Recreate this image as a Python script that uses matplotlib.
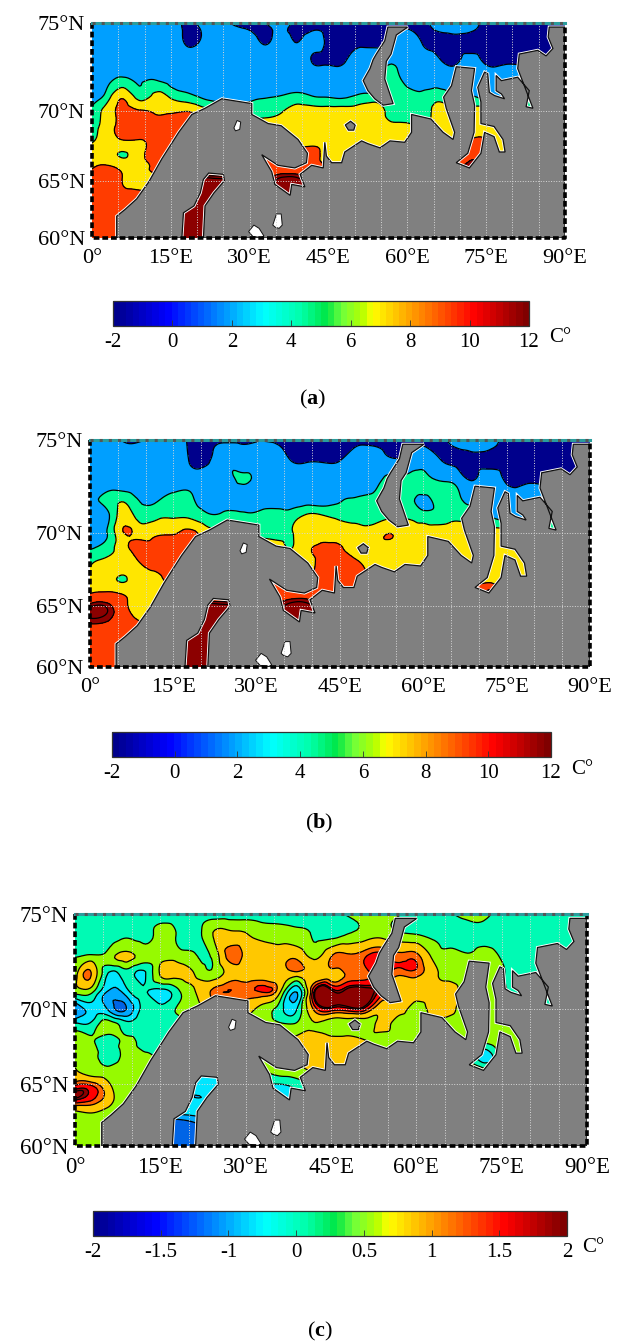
import numpy as np
import matplotlib
matplotlib.use('Agg')
import matplotlib.pyplot as plt
from matplotlib.colors import LinearSegmentedColormap
from matplotlib.tri import Triangulation, UniformTriRefiner

plt.rcParams['font.family'] = ['Liberation Serif', 'DejaVu Serif']
plt.rcParams['mathtext.fontset'] = 'custom'
plt.rcParams['mathtext.rm'] = 'Liberation Serif'
plt.rcParams['mathtext.bf'] = 'Liberation Serif:bold'

lons = np.arange(0, 91, 3)
lats = np.arange(75, 59, -1)

sst_a = [
 [3,3,1.5,3,3,2.5,.4,2,2.5,.8, .8,1.2,2.5,.5,.5,.3,0,0,0,0, 0,.3,2,2,2,.3,0,0,0,0,0],
 [3,3,3,3,3,3,.7,1.5,3,3, 2.5,.8,2,1,2,.5,.3,.3,.3,1, 2.5,.8,.3,.3,.3,.3,.3,.3,.3,.3,.3],
 [3,3,3,3,3,3,3,3,3,3, 3,3,3,3,.8,.5,.8,3,3,3.5, 3,3,1.5,.5,2,.5,.5,.5,.5,.5,.5],
 [3,3.5,4.3,3.7,3.9,3.2,3,3,3,3, 3,3,3,3,3,3,3,3,3,5, 3,3,3,3,3,3,3,3,3,3,3],
 [2.5,5,7.5,5,6.5,5.5,4.5,3.5,3,3, 3.5,3.8,4,4.5,3.9,3.7,3.5,4.3,4.6,5, 5,4.5,5,4,4,3,3,3,3,3,3],
 [4.5,7,8.5,8.2,7.8,7.8,8,7,6,5.5, 5,5,5.8,7,7,7,7,7,7,5.3, 5,5,7,7,7,7,7,7,7,7,7],
 [5,7.2,8.5,8.5,8.5,8.5,8.5,8,7,7, 7,7,7,7,7,7.5,7,7,7,6.3, 6.3,6,7,7,7,7,7,7,7,7,7],
 [5.8,7,7.9,7.9,8.5,8.5,8,8,8,8, 8,7,7,7,7.5,7.5,7,7,7,7, 7,7,7,7,8.3,8.3,7,7,7,7,7],
 [7,7,5.8,7.3,8.5,8,8,8,8,8, 8,8,8,8.8,8.8,7,7,7,7,7, 7,7,7,7,9.3,9,7,7,7,7,7],
 [7.9,8.3,7.5,7.5,8.2,8,8,8,8,8, 9,9,9,9,9,8,7,7,7,7, 7,7,7,9,10.5,9,7,7,7,7,7],
 [9,9,7.9,7.5,7.5,8,9,11,11,11, 10,10,11,11,10,9,8,8,8,8, 8,8,8,8,8,8,8,8,8,8,8],
 [9,9,8.3,8.2,8,9,11,11,11,10, 10,10,11,11,10,9,8,8,8,8, 8,8,8,8,8,8,8,8,8,8,8],
 [9,9,9,8.5,9,10,11,11,11,10, 10,10,11,11,10,9,8,8,8,8, 8,8,8,8,8,8,8,8,8,8,8],
 [9,9,9,9,9,11,11,11,11,10, 9,9,9,9,9,9,8,8,8,8, 8,8,8,8,8,8,8,8,8,8,8],
 [9,9,9,9,9,11,11,11,11,10, 9,9,9,9,9,9,8,8,8,8, 8,8,8,8,8,8,8,8,8,8,8],
 [9,9,9,9,9,11,11,11,11,10, 9,9,9,9,9,9,8,8,8,8, 8,8,8,8,8,8,8,8,8,8,8],
]

sst_b = [
 [3,3,.7,.7,3,3,.5,.5,.7,.6, .8,.6,.3,.3,.3,.3,.3,.3,.3,.3, .3,.3,2,2.5,2,.3,.3,.3,.3,.3,.3],
 [1,3,3,3,3,3,.8,.5,3,3, 3,3,1.1,.8,.8,1,2.5,2.5,1.5,2, 3,1.2,.5,.3,.3,.3,.3,.3,.3,.3,.3],
 [3,3,3,3,3,3,3,3,3,4.2, 3.5,3,3,3,3,3,3,3,5,5, 5,3.9,3,1,3,.5,.5,.5,.5,.5,.5],
 [3.5,4.7,5.5,3.8,3.8,4.5,4.3,3,3,3, 3,3,3,3,3,3.8,4.1,4.5,5,5, 3.5,5,4.5,3,3,3,3,3,3,3,3],
 [3,3.2,7,5,5.5,5.8,5.7,4.5,4.5,4.5, 4.5,5,5,6.5,6.3,5.5,5,5,5.7,5.7, 5,5,5.5,5,4,3,3,3,3,3,3],
 [3.5,3.9,7.9,7.5,7.8,7.9,8.5,7,6,5.5, 5.5,5.5,5.8,7,7.5,7,7,7,8,7, 7,7,7,7,7,7,7,7,7,7,7],
 [4,5,7.3,8.5,8.5,8.5,8.5,8,7,7, 7,7,6,7.5,8.5,8.3,7,7,7,7, 7,7,7,7,7,7,7,7,7,7,7],
 [5.8,7,7,7.9,8.5,8.5,8,8,8,8, 8,7,7,7,9,9,8.5,7,7,7, 7,7,7,7,7,7,7,7,7,7,7],
 [7,7,5.8,7,7.5,8.5,8,8,8,8, 8,8,8,8,9,9,8.5,8,7,7, 7,7,7,7,7.2,7,7,7,7,7,7],
 [7.9,8.2,7.8,7.5,7.7,8,8,8,8,8, 9,9,9,9,9,9,8.5,8,7,7, 7,7,7,8,10.5,8,7,7,7,7,7],
 [10.5,10.5,8.6,7.2,7.5,8,9,11,11,11, 10,10,11,11,10,9,8,8,8,8, 8,8,8,8,8,8,8,8,8,8,8],
 [10.5,10.2,9,7.8,7.5,9,11,11,11,10, 10,10,11,11,10,9,8,8,8,8, 8,8,8,8,8,8,8,8,8,8,8],
 [9,9,9,9,9,10,11,11,11,10, 10,10,11,11,10,9,8,8,8,8, 8,8,8,8,8,8,8,8,8,8,8],
 [9,9,9,9,9,11,11,11,11,10, 9,9,9,9,9,9,8,8,8,8, 8,8,8,8,8,8,8,8,8,8,8],
 [9,9,9,9,9,11,11,11,11,10, 9,9,9,9,9,9,8,8,8,8, 8,8,8,8,8,8,8,8,8,8,8],
 [9,9,9,9,9,11,11,11,11,10, 9,9,9,9,9,9,8,8,8,8, 8,8,8,8,8,8,8,8,8,8,8],
]

sst_c = [
 [0,0,0,0,0,0,0,0,0,0, 0,0,0,0,0,.1,.3,.4,.5,.3, 0,.1,.2,.5,.4,0,0,0,0,0,0],
 [0,0,0,.2,.1,.4,.2,0,.7,.9, .8,.6,.5,.4,.2,.1,.3,.5,.6,.4, .3,.1,0,0,.1,0,0,0,0,0,0],
 [.2,.3,.5,.9,.5,.5,.5,.3,.3,1.4, 1.1,1,1,1.1,.6,1.2,1.3,1.45,1.6,1.35, 1.35,.6,.4,.3,.4,.2,.1,0,0,0,0],
 [.5,1.2,-.3,0,-.3,.8,.9,.75,.4,.95, 1,1,1,1,1,1.1,1.3,1.4,1.55,1.3, 1.35,.9,.6,.5,.4,.3,0,0,0,0,0],
 [.4,.3,-.7,-.4,-.1,-.4,.1,.7,1.3,1.5, 1.4,1.5,.8,-.6,1.75,2,2,2,1.6,1, 1,1,1,.5,.5,.4,0,0,0,0,0],
 [-1,-.4,-.7,-1,0,0,.3,.5,.8,1, 1,.5,0,-.2,1.3,1.65,1.65,1.6,.9,1, .5,1,.9,.5,.5,.4,.2,.2,.2,.2,.2],
 [0,0,.5,0,0,-.1,0,.2,.5,.5, .5,.5,.4,.4,.7,.4,.4,.4,.9,.4, .4,.4,.4,.4,.4,.4,.4,.4,.4,.4,.4],
 [.3,.3,0,.4,-.05,0,.1,.3,.5,.5, .6,.7,.8,.9,1,1,1,.8,.5,.4, .4,.4,.4,.4,.4,.4,.4,.4,.4,.4,.4],
 [.5,.5,0,.4,.4,.2,.3,.3,.3,.3, .3,.5,.7,.9,1,1,1,.8,.6,.4, .4,.4,.4,.4,-.5,.4,.4,.4,.4,.4,.4],
 [.8,.4,.4,.5,.5,.4,.2,0,-.2,-.2, 0,.2,.5,.6,.8,.8,.8,.6,.4,.4, .4,.4,.4,.4,.4,.4,.4,.4,.4,.4,.4],
 [1.4,1.4,.8,.4,.4,.2,-.2,-.4,-.3,-.3, -.2,-.2,-.2,0,.3,.5,.5,.4,.4,.4, .4,.4,.4,.4,.4,.4,.4,.4,.4,.4,.4],
 [1.9,1.6,1,.4,.4,0,-.4,-.6,-.5,-.3, -.3,-.3,-.5,-.2,.2,.4,.4,.4,.4,.4, .4,.4,.4,.4,.4,.4,.4,.4,.4,.4,.4],
 [.8,.9,.6,.5,.4,-.2,-.4,-.4,-.4,-.3, -.2,-.2,-.2,0,.2,.4,.4,.4,.4,.4, .4,.4,.4,.4,.4,.4,.4,.4,.4,.4,.4],
 [.5,.5,.5,.5,.3,-.8,-1.2,-1,-.7,-.3, 0,.4,.4,.4,.4,.4,.4,.4,.4,.4, .4,.4,.4,.4,.4,.4,.4,.4,.4,.4,.4],
 [.5,.5,.5,.4,0,-1,-1.3,-1.3,-1,-.3, 0,.4,.4,.4,.4,.4,.4,.4,.4,.4, .4,.4,.4,.4,.4,.4,.4,.4,.4,.4,.4],
 [.5,.5,.5,.4,0,-1,-1.3,-1.3,-1,-.3, 0,.4,.4,.4,.4,.4,.4,.4,.4,.4, .4,.4,.4,.4,.4,.4,.4,.4,.4,.4,.4],
]

# contour bands
levels_ab = [-2, 1, 4, 6, 8, 10, 12]
lines_ab = [1, 4, 6, 8, 10, 10.6]
colors_ab = ['#00008c', '#009fff', '#00fa96', '#ffe600', '#ff3c00', '#8c0000']
levels_c = [-2, -1, -0.6, -0.2, 0.25, 0.75, 1.25, 1.5, 1.75, 2]
lines_c = [-1, -0.6, -0.2, 0.25, 0.75, 1.25, 1.5, 1.75, 1.85]
colors_c = ['#0064e6', '#00a8ff', '#00e6ff', '#00fab4', '#96fa00', '#ffc800', '#ff6400', '#ff0000', '#8c0000']

# coastline, lon/lat
land_lon = [90, 21.2, 21.5, 23.2, 25.2, 25, 22.2, 21.2, 20.6, 19.4, 17.4, 17.1, 4.7, 4.7, 6.3, 8.5, 10.8, 13.3, 16.5, 19, 21.5, 24.7,
            30.4, 30.4, 33.5, 36, 39.2, 41, 40.8, 38.6, 35.4, 32.3, 34.2, 34.8, 37.7, 38, 40.5, 39.6, 41.8, 44, 44.3, 44.6,
            45.6, 47.5, 48.1, 51.3, 52.5, 54.8, 56.7, 59.5, 60.8, 60.8, 64.5, 66.8, 68.7, 69, 67.4, 66.9, 68.4, 69.3, 72.8,
            72.2, 72.8, 72.7, 71.5, 69.3, 71.8, 74, 74.7, 76.5, 77.5, 78.6, 78.2, 76.5, 74, 74, 73.4, 74.7,
            75.3, 75.6, 76.6, 78.5, 77.9, 76.9, 76.9, 77.9, 81, 83.2, 82.6, 83.9, 81, 81.3, 84.8, 86.4, 87.7, 86.8, 87, 90]
land_lat = [60, 60, 62.9, 64, 65, 65.5, 65.6, 65.1, 64, 62.9, 62.3, 60, 60, 62, 62.6, 63.5, 64.9, 66.7, 68.6, 69.8, 70.2, 70.8,
            70.5, 69.8, 69.2, 69.05, 68.1, 67.1, 66.4, 66, 66.2, 67, 65.7, 64.7, 63.8, 64.7, 64.5, 65.5, 66.2, 66, 67.9, 66.9,
            66.4, 66.4, 67.2, 68, 67.8, 67.5, 68, 67.9, 68.6, 69.8, 69.5, 68.6, 68.1, 68.6, 70.2, 70.9, 71.6, 72.7, 72.6,
            71.3, 70.4, 68.6, 67.1, 66.4, 66, 67.1, 68.6, 68.3, 67.2, 67.2, 68.1, 69, 69.2, 70.6, 71.5, 72.4,
            72.3, 71.2, 71, 70.8, 71.1, 71.3, 72.2, 71.9, 72.1, 71.3, 70.3, 70.2, 72.6, 73.4, 73.6, 73.3, 73.7, 74.3, 74.8, 74.8]
zemlya_lon = [56.3, 60.1, 57.9, 56.9, 56, 55.7, 57.3, 55.4, 53.8, 52.5, 51.6, 52.9, 53.5, 54.1, 55.7]
zemlya_lat = [74.8, 74.8, 74.4, 73.4, 73, 72, 70.5, 70.4, 70.8, 71.3, 71.9, 72.6, 73.1, 73.4, 74.1]
kolguev_lon = [48.2, 49.2, 50.1, 49.8, 48.8]
kolguev_lat = [69.1, 69.35, 69.1, 68.75, 68.75]
lake1_lon = [29.8, 30.8, 31.8, 32.7, 32.2, 30.6]
lake1_lat = [60.6, 61.2, 60.9, 60.2, 60.05, 60.15]
lake2_lon = [34.4, 35.1, 36, 36.2, 35.6, 34.9]
lake2_lat = [61.2, 62.2, 62.2, 61.2, 60.9, 61]
lake3_lon = [27, 27.6, 28.3, 28.1, 27.3]
lake3_lat = [68.9, 69.4, 69.3, 68.8, 68.7]

map_ticks_x = [0, 15, 30, 45, 60, 75, 90]
map_labels_x = ['0°', '15°E', '30°E', '45°E', '60°E', '75°E', '90°E']
map_ticks_y = [60, 65, 70, 75]
map_labels_y = ['60°N', '65°N', '70°N', '75°N']
cbar_labels_ab = ['-2', '0', '2', '4', '6', '8', '10', '12']
cbar_labels_c = ['-2', '-1.5', '-1', '0', '0.5', '1', '1.5', '2']

W, H = 618, 1343
cmap = LinearSegmentedColormap.from_list('jetlike', [
    (0, '#00008c'), (0.125, '#0000ff'), (0.36, '#00ffff'), (0.45, '#00ffaa'), (0.513, '#00e646'),
    (0.55, '#6eff3c'), (0.6, '#b4ff00'), (0.625, '#ffff00'), (0.75, '#ff8000'), (0.875, '#ff0000'), (1, '#800000')], N=64)


def px_axes(fig, x0, y0, x1, y1):
    return fig.add_axes([x0 / W, 1 - y1 / H, (x1 - x0) / W, (y1 - y0) / H])


def merc(lat):
    return np.log(np.tan(np.pi / 4 + np.radians(lat) / 2))


def merc_inv(y):
    return np.degrees(2 * np.arctan(np.exp(y)) - np.pi / 2)


def draw_map(fig, box, sst, levels, lines, colors, fsize):
    ax = px_axes(fig, *box)
    ax.set_yscale('function', functions=(merc, merc_inv))
    field = np.array(sst, dtype=float)
    grid_x, grid_y = np.meshgrid(lons, lats)
    tri = Triangulation(grid_x.ravel(), grid_y.ravel())
    tri_fine, z_fine = UniformTriRefiner(tri).refine_field(field.ravel(), subdiv=3)
    z_fine = np.clip(z_fine, levels[0] + 1e-3, levels[-1] - 1e-3)
    ax.tricontourf(tri_fine, z_fine, levels=levels, colors=colors)
    ax.tricontour(tri_fine, z_fine, levels=lines, colors='k', linewidths=0.9, linestyles='solid')
    for px, py in [(land_lon, land_lat), (zemlya_lon, zemlya_lat), (kolguev_lon, kolguev_lat)]:
        ax.fill(px, py, facecolor='none', edgecolor='white', linewidth=2.2, zorder=3)
        ax.fill(px, py, facecolor='#808080', edgecolor='#111111', linewidth=0.9, zorder=4)
    for px, py in [(lake1_lon, lake1_lat), (lake2_lon, lake2_lat), (lake3_lon, lake3_lat)]:
        ax.fill(px, py, facecolor='white', edgecolor='#111111', linewidth=0.7, zorder=4)
    for v in range(5, 90, 5):
        ax.axvline(v, color='#d8d8d8', lw=0.7, ls=':', zorder=5)
    for v in [65, 70]:
        ax.axhline(v, color='#d8d8d8', lw=0.7, ls=':', zorder=5)
    ax.set_xlim(0, 90)
    ax.set_ylim(60, 75)
    ax.set_xticks(map_ticks_x, map_labels_x, fontsize=fsize)
    ax.set_yticks(map_ticks_y, map_labels_y, fontsize=fsize)
    ax.minorticks_off()
    ax.tick_params(axis='x', length=0, pad=8)
    ax.tick_params(axis='y', length=0, pad=5)
    for s in ax.spines.values():
        s.set_visible(False)
    # dashed frame
    tr = ax.transAxes
    ax.plot([0, 0, 1, 1], [1, 0, 0, 1], transform=tr, color='k', lw=2.6, ls=(0, (1.6, 0.8)), clip_on=False, zorder=6)
    ax.plot([0, 1], [1, 1], transform=tr, color='#2a9d9d', lw=2.2, clip_on=False, zorder=6)
    ax.plot([0, 1], [1, 1], transform=tr, color='#555555', lw=2.2, ls=(0, (1, 2)), clip_on=False, zorder=6)
    return ax


def draw_cbar(fig, box, labels, fsize, unit_x):
    ax = px_axes(fig, *box)
    sm = plt.cm.ScalarMappable(cmap=cmap, norm=plt.Normalize(0, len(labels) - 1))
    cb = fig.colorbar(sm, cax=ax, orientation='horizontal')
    cb.set_ticks(np.arange(len(labels)), labels=labels)
    cb.ax.tick_params(direction='in', length=4, width=0.6, color='#333333', labelsize=fsize, pad=5)
    cb.outline.set_edgecolor('#333333')
    cb.outline.set_linewidth(0.9)
    fig.text(unit_x / W, 1 - (box[3] + 12) / H, 'C°', fontsize=fsize, ha='left', va='center')


fig = plt.figure(figsize=(W / 100, H / 100), dpi=100)

draw_map(fig, (92, 23, 565, 238), sst_a, levels_ab, lines_ab, colors_ab, 16)
draw_cbar(fig, (113, 301, 529, 326), cbar_labels_ab, 15, 549)
fig.text(313 / W, 1 - 399 / H, r'($\mathbf{a}$)', fontsize=16, ha='center', va='center')

draw_map(fig, (90, 440, 590, 667), sst_b, levels_ab, lines_ab, colors_ab, 16)
draw_cbar(fig, (112, 732, 551, 757), cbar_labels_ab, 15, 571)
fig.text(319 / W, 1 - 823 / H, r'($\mathbf{b}$)', fontsize=16, ha='center', va='center')

draw_map(fig, (75, 914, 587, 1146), sst_c, levels_c, lines_c, colors_c, 16.5)
draw_cbar(fig, (93, 1211, 567, 1236), cbar_labels_c, 15, 582)
fig.text(320 / W, 1 - 1331 / H, r'($\mathbf{c}$)', fontsize=16, ha='center', va='center')

fig.savefig('out.png', dpi=100)
